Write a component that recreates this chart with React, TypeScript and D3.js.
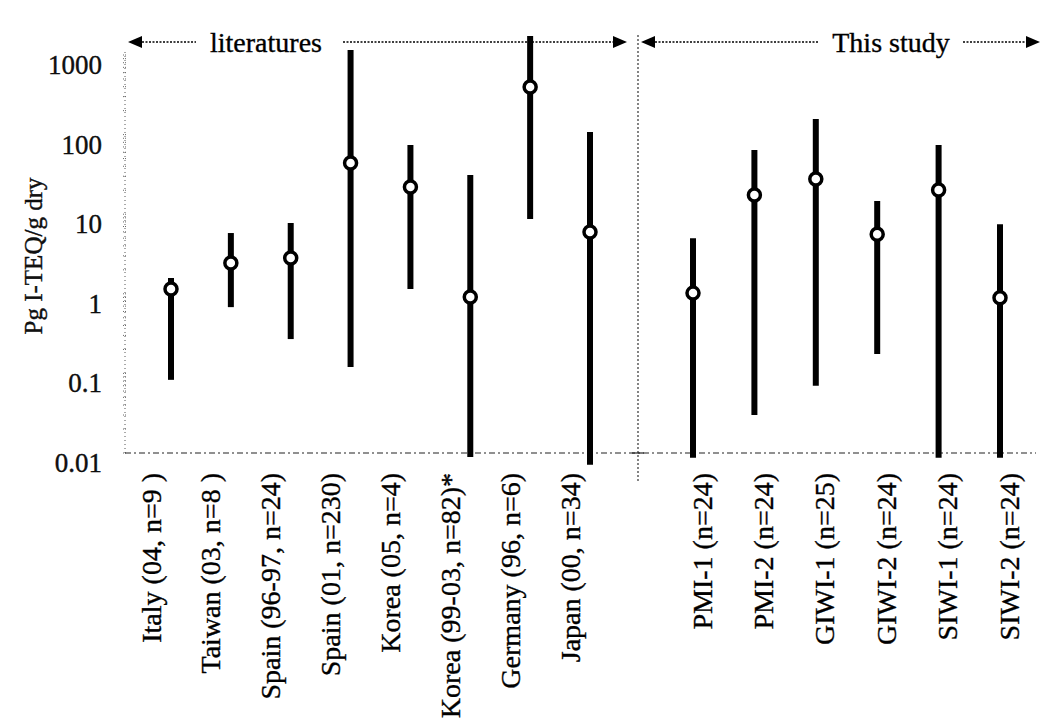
import React from "react";
import * as d3 from "d3";

const litCategories = [
  "Italy (04, n=9 )",
  "Taiwan (03, n=8 )",
  "Spain (96-97, n=24)",
  "Spain (01, n=230)",
  "Korea (05, n=4)",
  "Korea (99-03, n=82)*",
  "Germany (96, n=6)",
  "Japan (00, n=34)",
];
const studyCategories = [
  "PMI-1 (n=24)",
  "PMI-2 (n=24)",
  "GIWI-1 (n=25)",
  "GIWI-2 (n=24)",
  "SIWI-1 (n=24)",
  "SIWI-2 (n=24)",
];
const litMedian = [1.15, 2.44, 2.82, 44, 22, 0.91, 396, 5.97];
const litLow = [0.083, 0.68, 0.27, 0.12, 1.15, 0.0089, 8.7, 0.0071];
const litHigh = [1.58, 5.8, 7.75, 1156, 74, 31, 1733, 108];
const studyMedian = [1.02, 17.4, 27.7, 5.6, 20.1, 0.89];
const studyLow = [0.0087, 0.03, 0.07, 0.175, 0.0087, 0.0087];
const studyHigh = [5.0, 64, 157, 14.7, 74, 7.5];
const yTicks = [0.01, 0.1, 1, 10, 100, 1000];
const yTickLabels = ["0.01", "0.1", "1", "10", "100", "1000"];
const groupLabels = ["literatures", "This study"];
const yTitle = "Pg I-TEQ/g dry";

const W = 1044;
const H = 724;
const FONT = "'Liberation Serif', 'Times New Roman', serif";

export default function App() {
  const y = d3.scaleLog().domain([0.01, 1000]).range([453, 55]);
  const xLit = d3.scalePoint<string>().domain(litCategories).range([171, 590]);
  const xStudy = d3.scalePoint<string>().domain(studyCategories).range([693, 1000]);

  const litData = litCategories.map((c, i) => ({
    c, x: xLit(c) as number, lab: (xLit(c) as number) - 20,
    med: litMedian[i], lo: litLow[i], hi: litHigh[i],
  }));
  const studyData = studyCategories.map((c, i) => ({
    c, x: xStudy(c) as number, lab: (xStudy(c) as number) + 9,
    med: studyMedian[i], lo: studyLow[i], hi: studyHigh[i],
  }));
  const all = [...litData, ...studyData];

  const axisX = 125;
  const baseY = y(0.01);
  const divX = 638;
  const headY = 42;

  const minor = y.ticks().filter((t) => t >= 0.01 && t <= 1000);

  const arrowLeft = (x: number) => `M${x},${headY} L${x + 14},${headY - 6} L${x + 14},${headY + 6} Z`;
  const arrowRight = (x: number) => `M${x},${headY} L${x - 14},${headY - 6} L${x - 14},${headY + 6} Z`;

  const textStyle = { stroke: "#000", strokeWidth: 0.35 };

  return (
    <div>
      <style>{`body{margin:0;background:#fff}`}</style>
      <svg width={W} height={H} style={{ display: "block", background: "#fff" }} fontFamily={FONT}>
        <line x1={axisX} x2={axisX} y1={52} y2={baseY} stroke="#555" strokeWidth={1} strokeDasharray="1,3" />
        {minor.map((t, i) => (
          <line key={i} x1={axisX - 2} x2={axisX + 1} y1={y(t)} y2={y(t)} stroke="#666" strokeWidth={1} strokeDasharray="1,1" />
        ))}
        {yTicks.map((t, i) => (
          <text key={t} x={102} y={y(t) + 10} textAnchor="end" dominantBaseline="central" fontSize={27} fill="#111" style={textStyle}>
            {yTickLabels[i]}
          </text>
        ))}
        <text transform={`translate(33,256) rotate(-90)`} textAnchor="middle" dominantBaseline="central" fontSize={25} fill="#111" style={textStyle}>
          {yTitle}
        </text>

        <line x1={axisX} x2={1036} y1={baseY} y2={baseY} stroke="#222" strokeWidth={1.2} strokeDasharray="6,3,2,3" />

        <line x1={divX} x2={divX} y1={35} y2={482} stroke="#333" strokeWidth={1.2} strokeDasharray="2,2" />
        <line x1={divX - 6} x2={divX + 6} y1={baseY} y2={baseY} stroke="#222" strokeWidth={1.2} />

        <path d={arrowLeft(128)} fill="#000" />
        <line x1={142} x2={196} y1={headY} y2={headY} stroke="#000" strokeWidth={1.5} strokeDasharray="2,1.5" />
        <text x={266} y={52} textAnchor="middle" fontSize={28} fill="#000" style={textStyle}>{groupLabels[0]}</text>
        <line x1={343} x2={614} y1={headY} y2={headY} stroke="#000" strokeWidth={1.5} strokeDasharray="2,1.5" />
        <path d={arrowRight(627)} fill="#000" />

        <path d={arrowLeft(641)} fill="#000" />
        <line x1={655} x2={818} y1={headY} y2={headY} stroke="#000" strokeWidth={1.5} strokeDasharray="2,1.5" />
        <text x={891} y={52} textAnchor="middle" fontSize={28} fill="#000" style={textStyle}>{groupLabels[1]}</text>
        <line x1={963} x2={1026} y1={headY} y2={headY} stroke="#000" strokeWidth={1.5} strokeDasharray="2,1.5" />
        <path d={arrowRight(1040)} fill="#000" />

        {all.map((d) => (
          <g key={d.c}>
            <line x1={d.x} x2={d.x} y1={y(d.hi)} y2={y(d.lo)} stroke="#000" strokeWidth={6} />
            <circle cx={d.x} cy={y(d.med)} r={6} fill="#fff" stroke="#000" strokeWidth={3.5} />
          </g>
        ))}

        {all.map((d) => (
          <text
            key={"l" + d.c}
            transform={`translate(${d.lab},473) rotate(-90)`}
            textAnchor="end"
            dominantBaseline="central"
            fontSize={28}
            fill="#000"
            style={textStyle}
          >
            {d.c}
          </text>
        ))}
      </svg>
    </div>
  );
}
